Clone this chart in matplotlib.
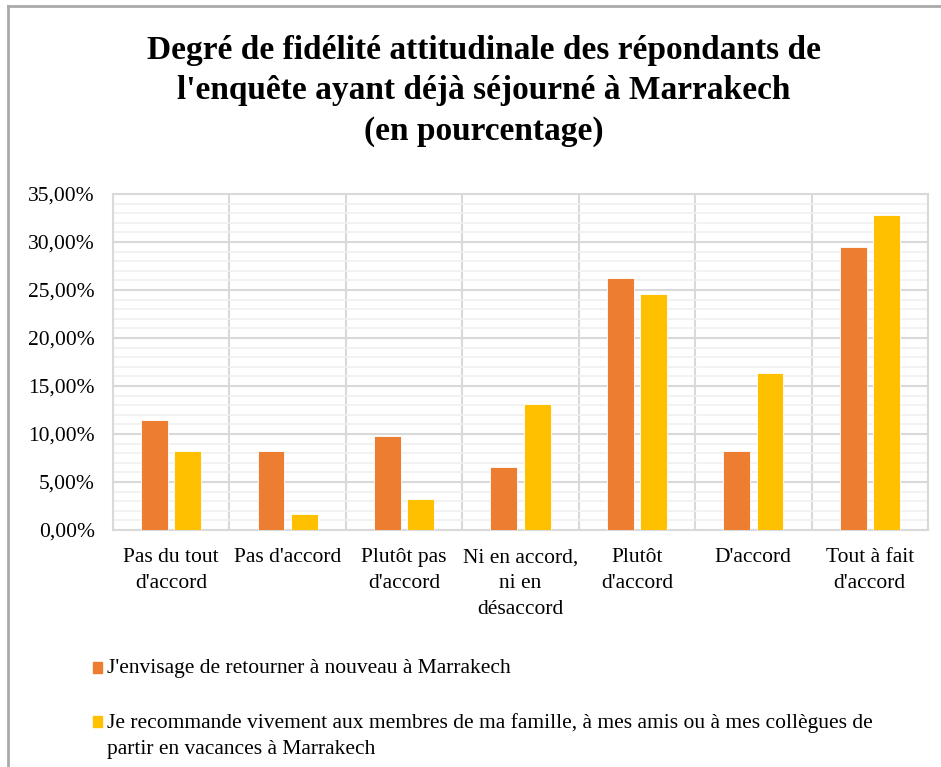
import numpy as np
import matplotlib
matplotlib.use("Agg")
import matplotlib.pyplot as plt
from matplotlib.patches import Rectangle
from matplotlib.lines import Line2D
from matplotlib.ticker import FuncFormatter, MultipleLocator

# data (percent of respondents)
categories = ["Pas du tout\nd'accord", "Pas d'accord", "Plutôt pas\nd'accord",
              "Ni en accord,\nni en\ndésaccord", "Plutôt\nd'accord", "D'accord",
              "Tout à fait\nd'accord"]
retour = [11.48, 8.20, 9.84, 6.56, 26.23, 8.20, 29.51]
recommande = [8.20, 1.64, 3.28, 13.11, 24.59, 16.39, 32.79]
series_names = ["J'envisage de retourner à nouveau à Marrakech",
                "Je recommande vivement aux membres de ma famille, à mes amis ou à mes collègues de\n"
                "partir en vacances à Marrakech"]
title = ("Degré de fidélité attitudinale des répondants de\n"
         "l'enquête ayant déjà séjourné à Marrakech\n(en pourcentage)")

orange = '#ED7D31'
yellow = '#FFC000'
plt.rcParams['font.family'] = ['Liberation Serif', 'DejaVu Serif']

fig = plt.figure(figsize=(9.41, 7.67), dpi=100)
fig.set_facecolor('white')
ax = fig.add_axes([113/941, 1-530/767, (928-113)/941, (530-194)/767])

x = np.arange(len(categories))
w = 0.23
ax.bar(x - 0.143, retour, w, color=orange, edgecolor='white', linewidth=0.6, zorder=3)
ax.bar(x + 0.143, recommande, w, color=yellow, edgecolor='white', linewidth=0.6, zorder=3)

ax.set_xlim(-0.5, len(categories) - 0.5)
ax.set_ylim(0, 35)
ax.yaxis.set_major_locator(MultipleLocator(5))
ax.yaxis.set_minor_locator(MultipleLocator(1))
ax.yaxis.set_major_formatter(FuncFormatter(lambda v, p: f"{v:.2f}".replace('.', ',') + '%'))
ax.set_xticks(x)
ax.set_xticklabels(categories, fontsize=15.5, linespacing=1.5)
ax.set_xticks(np.arange(-0.5, len(categories)), minor=True)

ax.grid(which='major', axis='y', color='#d9d9d9', linewidth=1.5, zorder=0)
ax.grid(which='minor', axis='y', color='#f0f0f0', linewidth=1.2, zorder=0)
ax.grid(which='minor', axis='x', color='#d9d9d9', linewidth=1.5, zorder=0)
ax.set_axisbelow(True)

ax.tick_params(axis='both', which='both', length=0)
ax.tick_params(axis='y', labelsize=15.5, pad=13)
ax.tick_params(axis='x', pad=13)
for s in ax.spines.values():
    s.set_color('#d9d9d9')
    s.set_linewidth(1.5)

fig.text(0.514, 1 - 91/767, title, ha='center', va='center', fontsize=24,
         fontweight='bold', linespacing=1.4)

# legend
leg_y = [668, 722]
for col, name, yy in zip([orange, yellow], series_names, leg_y):
    fig.add_artist(Rectangle((93/941, 1-(yy+5)/767), 9/941, 11/767,
                             transform=fig.transFigure, color=col))
    fig.text(107/941, 1-(yy - 9)/767, name, ha='left', va='top', fontsize=15.5,
             linespacing=1.5)

# chart border
fig.add_artist(Line2D([8/941, 8/941], [0, 1-6/767], transform=fig.transFigure,
                      color='#aaaaaa', linewidth=2))
fig.add_artist(Line2D([8/941, 1], [1-6/767, 1-6/767], transform=fig.transFigure,
                      color='#aaaaaa', linewidth=2))

fig.savefig('out.png', dpi=100, facecolor='white')
